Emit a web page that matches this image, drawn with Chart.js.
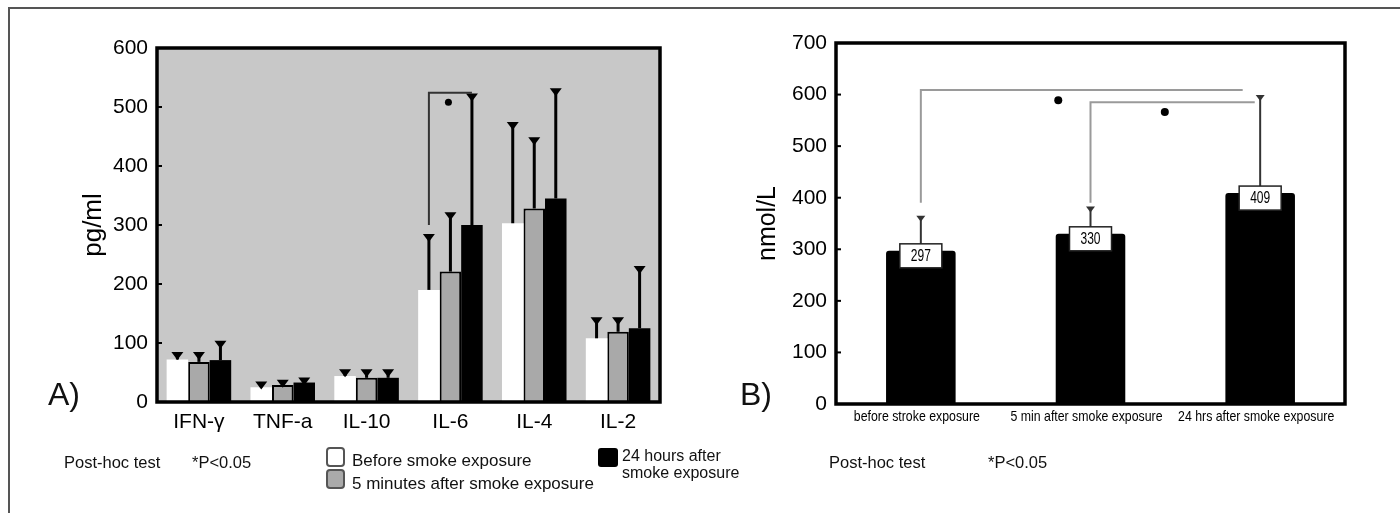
<!DOCTYPE html>
<html><head><meta charset="utf-8">
<script src="https://cdn.jsdelivr.net/npm/chart.js@4.4.1/dist/chart.umd.min.js"></script>
<style>
html,body{margin:0;padding:0;background:#fff;}
body{width:1400px;height:513px;position:relative;overflow:hidden;font-family:"Liberation Sans",Arial,sans-serif;color:#111;}
.frame{position:absolute;left:8px;top:7px;width:1400px;height:520px;border-top:2px solid #555;border-left:2px solid #555;}
canvas{position:absolute;top:0;}
#ca{left:0;}
#cb{left:700px;}
.t{position:absolute;white-space:nowrap;}
.box{position:absolute;box-sizing:border-box;}
</style></head>
<body>
<div class="frame"></div>
<canvas id="ca" width="700" height="513"></canvas>
<canvas id="cb" width="700" height="513"></canvas>

<div class="t" style="left:48px;top:374px;font-size:32px;line-height:40px;">A)</div>
<div class="t" style="left:740px;top:374px;font-size:32px;line-height:40px;">B)</div>

<div class="t" style="left:64px;top:452px;font-size:16.5px;line-height:20px;">Post-hoc test</div>
<div class="t" style="left:192px;top:452px;font-size:16.5px;line-height:20px;">*P&lt;0.05</div>
<div class="box" style="left:326px;top:447px;width:19px;height:20px;background:#fff;border:2px solid #555;border-radius:4px;"></div>
<div class="t" style="left:352px;top:451px;font-size:17px;line-height:20px;">Before smoke exposure</div>
<div class="box" style="left:326px;top:469px;width:19px;height:20px;background:#aaa;border:2px solid #555;border-radius:4px;"></div>
<div class="t" style="left:352px;top:474px;font-size:17px;line-height:20px;">5 minutes after smoke exposure</div>
<div class="box" style="left:598px;top:448px;width:20px;height:19px;background:#000;border-radius:3px;"></div>
<div class="t" style="left:622px;top:447px;font-size:16px;line-height:17px;">24 hours after<br>smoke exposure</div>

<div class="t" style="left:829px;top:452px;font-size:16.5px;line-height:20px;">Post-hoc test</div>
<div class="t" style="left:988px;top:452px;font-size:16.5px;line-height:20px;">*P&lt;0.05</div>

<script>
// ---------- Panel A data ----------
const categoriesA = ['IFN-\u03b3', 'TNF-a', 'IL-10', 'IL-6', 'IL-4', 'IL-2'];
const beforeA     = [72, 25, 44, 190, 303, 108];
const fiveMinA    = [68, 29, 41, 221, 328, 119];
const hours24A    = [71, 33, 41, 300, 345, 125];
const errBeforeA  = [83, 33, 54, 283, 473, 142];
const errFiveMinA = [83, 36, 54, 320, 447, 142];
const errHours24A = [102, 40, 54, 521, 530, 229];
// significance bracket A: [category index, from value, top value, dot value]
const sigA = [3, 300, 524, 508];

// ---------- Panel B data ----------
const categoriesB = ['before stroke exposure', '5 min after smoke exposure', '24 hrs after smoke exposure'];
const valuesB     = [297, 330, 409];
const errB        = [363, 381, 597];
// brackets B: [from index, to (fractional) index, bottom value, top value, dot index, dot value]
const bracket1B = [0, 1.897, 390, 609, 0.81, 589];
const bracket2B = [1, 1.968, 390, 585, 1.438, 566];

const FAM = '"Liberation Sans", Arial, sans-serif';

function catPix(xs, idx) {
  const p0 = xs.getPixelForValue(0), p1 = xs.getPixelForValue(1);
  return p0 + idx * (p1 - p0);
}

function drawCap(ctx, x, y, w, h) {
  ctx.beginPath();
  ctx.moveTo(x - w / 2, y);
  ctx.lineTo(x + w / 2, y);
  ctx.lineTo(x, y + h);
  ctx.closePath();
  ctx.fill();
}

const pluginA = {
  id: 'pa',
  beforeDatasetsDraw(chart) {
    const {ctx, chartArea: a} = chart;
    ctx.save();
    ctx.fillStyle = '#c8c8c8';
    ctx.fillRect(a.left, a.top, a.right - a.left, a.bottom - a.top);
    ctx.restore();
  },
  afterDatasetsDraw(chart) {
    const {ctx, chartArea: a, scales: {x: xs, y: ys}} = chart;
    const errs = [errBeforeA, errFiveMinA, errHours24A];
    ctx.save();
    ctx.fillStyle = '#000';
    ctx.strokeStyle = '#000';
    for (let d = 0; d < 3; d++) {
      const meta = chart.getDatasetMeta(d);
      meta.data.forEach((bar, i) => {
        const yt = ys.getPixelForValue(errs[d][i]);
        ctx.lineWidth = 3;
        ctx.beginPath();
        ctx.moveTo(bar.x, bar.y);
        ctx.lineTo(bar.x, yt);
        ctx.stroke();
        drawCap(ctx, bar.x, yt - 1, 12, 8);
      });
    }
    // bracket
    const ci = sigA[0];
    const xw = chart.getDatasetMeta(0).data[ci].x;
    const xg = chart.getDatasetMeta(1).data[ci].x;
    const xb = chart.getDatasetMeta(2).data[ci].x;
    ctx.strokeStyle = '#333';
    ctx.lineWidth = 2;
    ctx.beginPath();
    ctx.moveTo(xw, ys.getPixelForValue(sigA[1]));
    ctx.lineTo(xw, ys.getPixelForValue(sigA[2]));
    ctx.lineTo(xb, ys.getPixelForValue(sigA[2]));
    ctx.stroke();
    ctx.beginPath();
    ctx.arc(xg - 2, ys.getPixelForValue(sigA[3]), 3.5, 0, Math.PI * 2);
    ctx.fill();
    // inward ticks
    ctx.lineWidth = 2;
    ctx.strokeStyle = '#000';
    ys.ticks.forEach(t => {
      const y = ys.getPixelForValue(t.value);
      ctx.beginPath(); ctx.moveTo(a.left, y); ctx.lineTo(a.left + 5, y); ctx.stroke();
    });
    // frame
    ctx.lineWidth = 3.5;
    ctx.strokeRect(a.left, a.top, a.right - a.left, a.bottom - a.top);
    ctx.restore();
  }
};

const pluginB = {
  id: 'pb',
  afterDatasetsDraw(chart) {
    const {ctx, chartArea: a, scales: {x: xs, y: ys}} = chart;
    ctx.save();
    const meta = chart.getDatasetMeta(0);
    // brackets
    ctx.strokeStyle = '#9a9a9a';
    ctx.lineWidth = 2;
    [bracket1B, bracket2B].forEach(b => {
      const x0 = catPix(xs, b[0]), x1 = catPix(xs, b[1]);
      ctx.beginPath();
      ctx.moveTo(x0, ys.getPixelForValue(b[2]));
      ctx.lineTo(x0, ys.getPixelForValue(b[3]));
      ctx.lineTo(x1, ys.getPixelForValue(b[3]));
      ctx.stroke();
      ctx.fillStyle = '#000';
      ctx.beginPath();
      ctx.arc(catPix(xs, b[4]), ys.getPixelForValue(b[5]), 4, 0, Math.PI * 2);
      ctx.fill();
    });
    // error bars
    ctx.strokeStyle = '#333';
    ctx.fillStyle = '#333';
    meta.data.forEach((bar, i) => {
      const yt = ys.getPixelForValue(errB[i]);
      ctx.lineWidth = 2;
      ctx.beginPath();
      ctx.moveTo(bar.x, bar.y);
      ctx.lineTo(bar.x, yt);
      ctx.stroke();
      drawCap(ctx, bar.x, yt - 1, 9, 6);
    });
    // value boxes
    meta.data.forEach((bar, i) => {
      const w = 42, h = 24;
      const bx = bar.x - w / 2, by = bar.y - 7;
      ctx.fillStyle = '#fff';
      ctx.fillRect(bx, by, w, h);
      ctx.strokeStyle = '#222';
      ctx.lineWidth = 1.5;
      ctx.strokeRect(bx, by, w, h);
      ctx.save();
      ctx.translate(bar.x, by + h / 2 + 1);
      ctx.scale(0.75, 1);
      ctx.fillStyle = '#000';
      ctx.font = '16px ' + FAM;
      ctx.textAlign = 'center';
      ctx.textBaseline = 'middle';
      ctx.fillText(String(valuesB[i]), 0, 0);
      ctx.restore();
    });
    // condensed category labels
    categoriesB.forEach((lab, i) => {
      ctx.save();
      ctx.translate(xs.getPixelForValue(i) - 4, a.bottom + 13);
      ctx.scale(0.85, 1);
      ctx.fillStyle = '#000';
      ctx.font = '14.5px ' + FAM;
      ctx.textAlign = 'center';
      ctx.textBaseline = 'middle';
      ctx.fillText(lab, 0, 0);
      ctx.restore();
    });
    // inward ticks
    ctx.lineWidth = 2;
    ctx.strokeStyle = '#000';
    ys.ticks.forEach(t => {
      const y = ys.getPixelForValue(t.value);
      ctx.beginPath(); ctx.moveTo(a.left, y); ctx.lineTo(a.left + 5, y); ctx.stroke();
    });
    // frame
    ctx.lineWidth = 3.5;
    ctx.strokeStyle = '#000';
    ctx.strokeRect(a.left, a.top, a.right - a.left, a.bottom - a.top);
    ctx.restore();
  }
};

Chart.defaults.font.family = FAM;
Chart.defaults.color = '#000';

new Chart(document.getElementById('ca'), {
  type: 'bar',
  data: {
    labels: categoriesA,
    datasets: [
      {label: 'Before smoke exposure', data: beforeA, backgroundColor: '#ffffff', borderWidth: 0},
      {label: '5 minutes after smoke exposure', data: fiveMinA, backgroundColor: '#a9a9a9', borderColor: '#000', borderWidth: 2},
      {label: '24 hours after smoke exposure', data: hours24A, backgroundColor: '#000000', borderColor: '#000', borderWidth: 0}
    ]
  },
  options: {
    responsive: false,
    animation: false,
    datasets: {bar: {categoryPercentage: 0.77, barPercentage: 1.0}},
    layout: {padding: {left: 0, right: 40, top: 48, bottom: 0}},
    plugins: {legend: {display: false}, tooltip: {enabled: false}},
    scales: {
      x: {
        grid: {display: false, drawTicks: false},
        border: {display: false},
        ticks: {font: {size: 21}, padding: 8, color: '#000', maxRotation: 0, minRotation: 0, autoSkip: false},
        afterFit(s) { s.height = 111; }
      },
      y: {
        min: 0, max: 600,
        grid: {display: false, drawTicks: false},
        border: {display: false},
        ticks: {stepSize: 100, font: {size: 21}, padding: 9, color: '#000'},
        title: {display: true, text: 'pg/ml', font: {size: 26}, color: '#000', padding: {top: 78, bottom: 0}},
        afterFit(s) { s.width = 157; }
      }
    }
  },
  plugins: [pluginA]
});

new Chart(document.getElementById('cb'), {
  type: 'bar',
  data: {
    labels: categoriesB,
    datasets: [
      {label: 'nmol/L', data: valuesB, backgroundColor: '#000000', borderWidth: 0, borderRadius: 3}
    ]
  },
  options: {
    responsive: false,
    animation: false,
    datasets: {bar: {categoryPercentage: 0.41, barPercentage: 1.0}},
    layout: {padding: {left: 0, right: 55, top: 43, bottom: 0}},
    plugins: {legend: {display: false}, tooltip: {enabled: false}},
    scales: {
      x: {
        grid: {display: false, drawTicks: false},
        border: {display: false},
        ticks: {display: false},
        afterFit(s) { s.height = 109; }
      },
      y: {
        min: 0, max: 700,
        grid: {display: false, drawTicks: false},
        border: {display: false},
        ticks: {stepSize: 100, font: {size: 21}, padding: 9, color: '#000'},
        title: {display: true, text: 'nmol/L', font: {size: 25}, color: '#000', padding: {top: 53, bottom: 0}},
        afterFit(s) { s.width = 136; }
      }
    }
  },
  plugins: [pluginB]
});
</script>
</body></html>
